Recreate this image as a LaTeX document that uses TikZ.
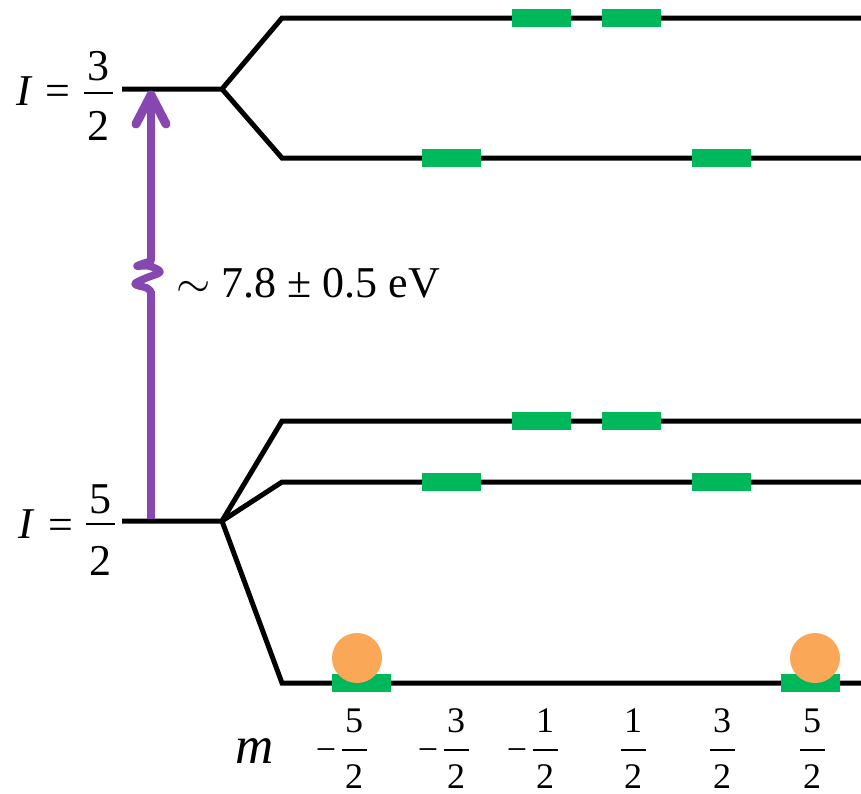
\RequirePackage{fix-cm}
\documentclass[tikz,border=0pt]{standalone}
\usepackage{fontspec}
\setmainfont{Liberation Serif}
\definecolor{lvlgreen}{RGB}{0,184,92}
\definecolor{ballorange}{RGB}{250,168,88}
\definecolor{arrowpurple}{RGB}{134,72,176}
\tikzset{
  level/.style={line width=5pt, line join=miter, black},
  subbar/.style={fill=lvlgreen},
  ball/.style={fill=ballorange},
  big/.style={font=\fontsize{44}{44}\selectfont, inner sep=0pt},
  mlab/.style={font=\fontsize{53}{53}\selectfont\itshape, inner sep=0pt},
  mfr/.style={font=\fontsize{36}{36}\selectfont, inner sep=0pt},
  fracbar/.style={line width=2pt, black},
  arr/.style={arrowpurple, line width=8.5pt},
}
\begin{document}
\begin{tikzpicture}[x=1pt,y=-1pt]
\useasboundingbox (0,0) rectangle (861,793);
% level coordinates
\coordinate (Ua) at (122,89);  \coordinate (Ub) at (222,89);
\coordinate (U1) at (282,18);  \coordinate (U1e) at (861,18);
\coordinate (U2) at (282,158); \coordinate (U2e) at (861,158);
\coordinate (La) at (122,521); \coordinate (Lb) at (222,521);
\coordinate (L1) at (282,421); \coordinate (L1e) at (861,421);
\coordinate (L2) at (282,482); \coordinate (L2e) at (861,482);
\coordinate (L3) at (282,683); \coordinate (L3e) at (861,683);
% levels
\draw[level] (Ua) -- (Ub) -- (U1) -- (U1e);
\draw[level] (Ub) -- (U2) -- (U2e);
\draw[level] (La) -- (Lb) -- (L1) -- (L1e);
\draw[level] (Lb) -- (L2) -- (L2e);
\draw[level] (Lb) -- (L3) -- (L3e);
% green sublevel marks
\foreach \x/\y in {541/18, 631/18, 451/158, 721/158, 541/421, 631/421, 451/482, 721/482, 361.5/683, 810.5/683}
  \fill[subbar] (\x-29.5,\y-9) rectangle (\x+29.5,\y+9);
% populations
\fill[ball] (357,658) circle[radius=25];
\fill[ball] (815,658) circle[radius=25];
% arrow
\coordinate (aS) at (151,519);
\coordinate (aB1) at (151,291);
\coordinate (aB2) at (151,261);
\coordinate (aT) at (151,95);
\draw[arr] (aS) -- (aB1);
\draw[arr] (aB2) -- (aT);
\draw[arrowpurple, line width=7.5pt, line cap=round, line join=round]
  plot[smooth, tension=0.6] coordinates {(151,292) (147,288) (135,284) (146,278) (160,272) (149,266) (137,266) (151,261)};
\draw[arrowpurple, line width=9pt, line cap=round, line join=round] (136,124) -- (aT) -- (166,124);
% energy label
\node[big, anchor=base west] (gap) at (176,297) {$\sim$ 7.8 ± 0.5 eV};
% I = 3/2
\node[big, anchor=base] (I1) at (25,105) {\textit{I}};
\node[big, anchor=base] (eq1) at (58,105) {=};
\node[big, anchor=base] (n1) at (98,80) {3};
\node[big, anchor=base] (d1) at (98,140) {2};
\draw[fracbar] (84,93) -- (113,93);
% I = 5/2
\node[big, anchor=base] (I2) at (27,538) {\textit{I}};
\node[big, anchor=base] (eq2) at (61,539) {=};
\node[big, anchor=base] (n2) at (100,513) {5};
\node[big, anchor=base] (d2) at (100,575) {2};
\draw[fracbar] (86,524) -- (115,524);
% m labels
\node[mlab, anchor=base] (m) at (255,763) {m};
\foreach \i/\x/\n/\s in {1/354/5/1, 2/456/3/1, 3/545/1/1, 4/633/1/0, 5/722/3/0, 6/812/5/0}{
  \node[mfr, anchor=base] (mn\i) at (\x,732) {\n};
  \node[mfr, anchor=base] (md\i) at (\x,788) {2};
  \draw[fracbar] (\x-12.5,750) -- (\x+12.5,750);
  \ifnum\s=1 \node[mfr, anchor=base] (ms\i) at (\x-28,761) {−}; \fi
}
\end{tikzpicture}
\end{document}
